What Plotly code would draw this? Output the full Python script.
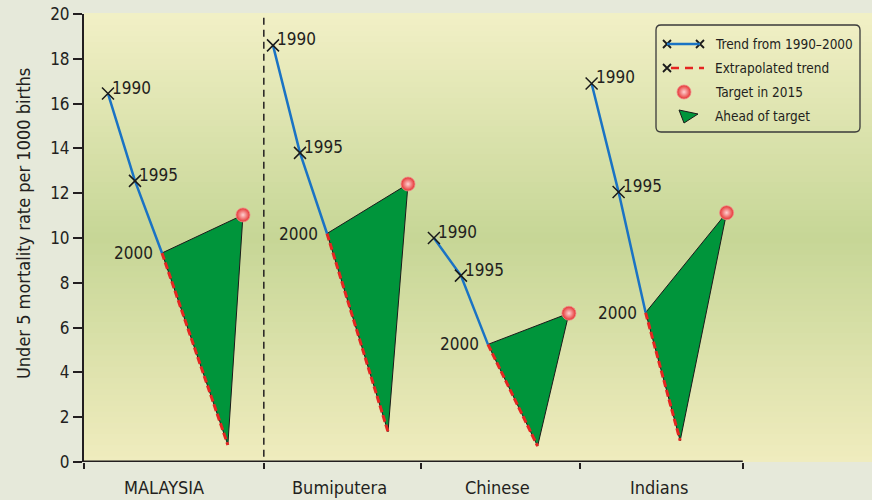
import plotly.graph_objects as go
import numpy as np

# Data
groups = ["MALAYSIA", "Bumiputera", "Chinese", "Indians"]
trend_years = [1990, 1995, 2000]
rate_1990 = [16.45, 18.6, 10.0, 16.9]
rate_1995 = [12.55, 13.8, 8.32, 12.05]
rate_2000 = [9.33, 10.2, 5.25, 6.67]
extrap_year = [2012.2, 2011.3, 2009.2, 2006.4]
extrap_rate = [0.76, 1.35, 0.71, 0.95]
target_year = 2015
target_rate = [11.03, 12.41, 6.64, 11.13]

# Layout: x axis is in "years", each group shifted along it
group_base = [4.44, 35.0, 64.8, 94.0]       # where 1990 sits for each group
group_edges = [0, 33.3, 62.4, 91.9, 122.0]   # tick marks / dividers
group_label_x = [14.8, 47.4, 76.5, 106.5]
x_max = 788 / 5.4

FONT = "DejaVu Sans Condensed, Liberation Sans Narrow, sans-serif"
BLUE = "#1a73c4"
RED = "#e52521"
GREEN = "#00953b"
INK = "#231f20"

# plot area in pixels: x 84..872, y 14..462
def px(x):
    return (x - 84) / 788

def py(y):
    return (462 - y) / 448

fig = go.Figure()
annotations = []

sphere = dict(symbol="circle", size=14, color="#e5302f",
              gradient=dict(type="radial", color="#ffd2d2"),
              line=dict(color="#f08a8a", width=0.8))

for g in range(len(groups)):
    def gx(yr):
        return group_base[g] + (yr - 1990)

    x2000, xt, xe = gx(2000), gx(target_year), gx(extrap_year[g])
    # ahead-of-target triangle
    fig.add_trace(go.Scatter(
        x=[x2000, xt, xe, x2000], y=[rate_2000[g], target_rate[g], extrap_rate[g], rate_2000[g]],
        mode="lines", fill="toself", fillcolor=GREEN,
        line=dict(color="#1a1a1a", width=1), hoverinfo="skip"))
    # extrapolated trend
    fig.add_trace(go.Scatter(
        x=[x2000, xe], y=[rate_2000[g], extrap_rate[g]], mode="lines",
        line=dict(color=RED, width=3, dash="7px,3px")))
    # observed trend
    rates = [rate_1990[g], rate_1995[g], rate_2000[g]]
    fig.add_trace(go.Scatter(
        x=[gx(y) for y in trend_years], y=rates, mode="lines",
        line=dict(color=BLUE, width=2.5)))
    fig.add_trace(go.Scatter(
        x=[gx(y) for y in trend_years[:2]], y=rates[:2], mode="markers",
        marker=dict(symbol="x-thin", size=12, line=dict(color="#1a1a1a", width=1.5))))
    # target
    fig.add_trace(go.Scatter(x=[xt], y=[target_rate[g]], mode="markers", marker=sphere))

    for yr, r in zip(trend_years, rates):
        if yr < 2000:
            annotations.append(dict(x=gx(yr), y=r, text=str(yr), showarrow=False,
                                    xanchor="left", yanchor="middle", xshift=2, yshift=6,
                                    font=dict(size=17, color=INK, family=FONT)))
        else:
            annotations.append(dict(x=gx(yr), y=r, text=str(yr), showarrow=False,
                                    xanchor="right", yanchor="middle", xshift=-7, yshift=0,
                                    font=dict(size=17, color=INK, family=FONT)))

for lab, lx in zip(groups, group_label_x):
    annotations.append(dict(x=lx, y=0, yref="paper", text=lab, showarrow=False,
                            yanchor="top", yshift=-13,
                            font=dict(size=18, color=INK, family=FONT)))

# y axis title placed by hand (it sits a little above the axis centre)
annotations.append(dict(x=px(23), y=py(224), xref="paper", yref="paper",
                        text="Under 5 mortality rate per 1000 births",
                        textangle=-90, showarrow=False, xanchor="center", yanchor="middle",
                        font=dict(size=18, color=INK, family=FONT)))

shapes = []
# background gradient (pale yellow -> green -> pale yellow)
stops = [(0.0, (240, 236, 190)), (0.5, (198, 214, 150)), (1.0, (242, 240, 198))]
n = 80
for i in range(n):
    t = (i + 0.5) / n
    for (a, ca), (b, cb) in zip(stops[:-1], stops[1:]):
        if a <= t <= b:
            f = (t - a) / (b - a)
            c = tuple(int(round(ca[k] + (cb[k] - ca[k]) * f)) for k in range(3))
    shapes.append(dict(type="rect", xref="paper", yref="paper", x0=0, x1=1,
                       y0=i / n, y1=(i + 1) / n + 0.002, fillcolor="rgb(%d,%d,%d)" % c,
                       line=dict(width=0), layer="below"))

# divider after MALAYSIA and the bottom axis line
shapes.append(dict(type="line", x0=group_edges[1], x1=group_edges[1], y0=-0.3, y1=20,
                   line=dict(color=INK, width=1.5, dash="7px,5px")))
shapes.append(dict(type="line", x0=0, x1=group_edges[-1], y0=0, y1=0,
                   line=dict(color=INK, width=3)))

# legend drawn by hand on a pixel overlay axis
lx0, lx1, ly0, ly1, rad = 656, 860, 25, 132, 5
shapes.append(dict(type="path", xref="x2", yref="y2",
                   path=f"M {lx0+rad},{ly0} L {lx1-rad},{ly0} Q {lx1},{ly0} {lx1},{ly0+rad} "
                        f"L {lx1},{ly1-rad} Q {lx1},{ly1} {lx1-rad},{ly1} L {lx0+rad},{ly1} "
                        f"Q {lx0},{ly1} {lx0},{ly1-rad} L {lx0},{ly0+rad} Q {lx0},{ly0} {lx0+rad},{ly0} Z",
                   line=dict(color="#3a3a3a", width=1.3)))
shapes.append(dict(type="line", xref="x2", yref="y2", x0=667, x1=700, y0=44, y1=44,
                   line=dict(color=BLUE, width=2.5)))
shapes.append(dict(type="line", xref="x2", yref="y2", x0=671, x1=704, y0=68, y1=68,
                   line=dict(color=RED, width=2.5, dash="8px,6px")))
shapes.append(dict(type="path", xref="x2", yref="y2",
                   path="M 679,110 L 698,114 L 684,123 Z",
                   fillcolor=GREEN, line=dict(color="#1a1a1a", width=1)))
fig.add_trace(go.Scatter(x=[667, 700, 667], y=[44, 44, 68], xaxis="x2", yaxis="y2",
                         mode="markers",
                         marker=dict(symbol="x-thin", size=8, line=dict(color="#1a1a1a", width=1.8))))
fig.add_trace(go.Scatter(x=[684], y=[92], xaxis="x2", yaxis="y2", mode="markers", marker=sphere))
for txt, yy in zip(["Trend from 1990–2000", "Extrapolated trend", "Target in 2015", "Ahead of target"],
                   [44, 68, 92, 116]):
    annotations.append(dict(x=713, y=yy, xref="x2", yref="y2", text=txt, showarrow=False,
                            xanchor="left", yanchor="middle",
                            font=dict(size=13.5, color=INK, family=FONT)))

fig.update_layout(
    width=872, height=500,
    margin=dict(l=84, r=0, t=14, b=38),
    paper_bgcolor="#e6e9da", plot_bgcolor="rgba(0,0,0,0)",
    showlegend=False, hovermode=False,
    shapes=shapes, annotations=annotations,
    font=dict(family=FONT, color=INK),
    xaxis=dict(range=[0, x_max], showgrid=False, zeroline=False, showline=False,
               tickvals=group_edges, ticktext=[""] * len(group_edges),
               ticks="outside", ticklen=6, tickwidth=1.5, tickcolor=INK),
    yaxis=dict(range=[0, 20], dtick=2, showgrid=False, zeroline=False,
               showline=True, linecolor=INK, linewidth=2,
               ticks="outside", ticklen=9, tickwidth=1.5, tickcolor=INK,
               tickfont=dict(size=17)),
    xaxis2=dict(overlaying="x", range=[84, 872], visible=False),
    yaxis2=dict(overlaying="y", range=[462, 14], visible=False),
)

fig.write_html("out.html", config={"displayModeBar": False},
               post_script="document.body.style.margin='0px';")
